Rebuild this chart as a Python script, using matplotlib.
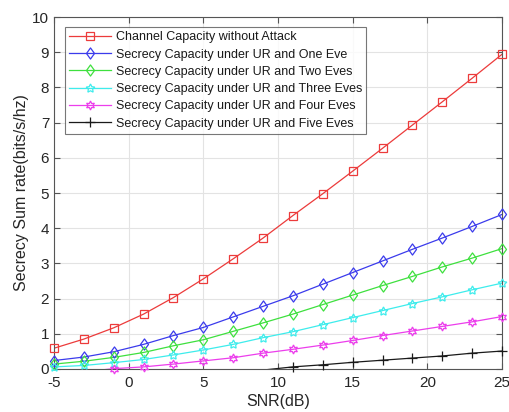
import numpy as np
import matplotlib
matplotlib.use("Agg")
from matplotlib import pyplot as plt
from matplotlib.lines import Line2D
from matplotlib.path import Path

plt.rcParams["font.family"] = ["Liberation Sans", "DejaVu Sans"]
plt.rcParams["axes.unicode_minus"] = False

snr = np.array([-5, -3, -1, 1, 3, 5, 7, 9, 11, 13, 15, 17, 19, 21, 23, 25])

no_attack = [0.59, 0.85, 1.17, 1.56, 2.03, 2.56, 3.13, 3.72, 4.36, 4.98,
             5.62, 6.27, 6.93, 7.59, 8.26, 8.94]
one_eve = [0.24, 0.34, 0.49, 0.70, 0.95, 1.18, 1.48, 1.78, 2.08, 2.41,
           2.74, 3.07, 3.40, 3.72, 4.05, 4.39]
two_eves = [0.14, 0.22, 0.33, 0.47, 0.66, 0.83, 1.07, 1.31, 1.56, 1.83,
            2.10, 2.37, 2.63, 2.90, 3.15, 3.42]
three_eves = [0.06, 0.10, 0.18, 0.27, 0.40, 0.54, 0.70, 0.89, 1.06, 1.26,
              1.46, 1.66, 1.86, 2.05, 2.25, 2.44]
four_eves = [np.nan, -0.08, 0.01, 0.06, 0.14, 0.23, 0.32, 0.45, 0.56, 0.68,
             0.81, 0.95, 1.08, 1.21, 1.34, 1.49]
five_eves = [np.nan, np.nan, np.nan, np.nan, np.nan, np.nan, np.nan, -0.03, 0.06, 0.12,
             0.19, 0.25, 0.31, 0.37, 0.45, 0.51]

labels = [
    "Channel Capacity without Attack",
    "Secrecy Capacity under UR and One Eve",
    "Secrecy Capacity under UR and Two Eves",
    "Secrecy Capacity under UR and Three Eves",
    "Secrecy Capacity under UR and Four Eves",
    "Secrecy Capacity under UR and Five Eves",
]
series = [no_attack, one_eve, two_eves, three_eves, four_eves, five_eves]
colors = ["#ec3b3b", "#3b3bec", "#3ee03e", "#3eecec", "#ec3eec", "#1a1a1a"]

# MATLAB-like diamond: a bit taller than wide
diamond = Path([(0, 1), (0.72, 0), (0, -1), (-0.72, 0), (0, 1)],
               [Path.MOVETO, Path.LINETO, Path.LINETO, Path.LINETO, Path.CLOSEPOLY])
markers = ["s", diamond, diamond, (5, 1, 0), (6, 1, 0), "+"]
msizes = [5.2, 8, 8, 6.5, 6.5, 6.5]

fig = plt.figure(figsize=(5.09, 4.12), dpi=100)
ax = fig.add_axes([54 / 509, 43 / 412, 448 / 509, 352 / 412])

handles = []
for y, c, m, ms, lab in zip(series, colors, markers, msizes, labels):
    y = np.asarray(y, dtype=float)
    # line clipped at the axes, markers drawn whole like MATLAB does
    ax.plot(snr, y, color=c, lw=0.9)
    vis = y >= 0
    ax.plot(snr[vis], y[vis], ls="none", marker=m, ms=ms, mfc="none", mec=c,
            mew=0.9, clip_on=False, zorder=3)
    handles.append(Line2D([], [], color=c, lw=0.9, marker=m, ms=ms, mfc="none",
                          mec=c, mew=0.9))

ax.set_xlim(-5, 25)
ax.set_ylim(0, 10)
ax.set_xticks(np.arange(-5, 26, 5))
ax.set_yticks(np.arange(0, 11, 1))
ax.grid(True, color="#e3e3e3", lw=0.8)
ax.set_axisbelow(True)
ax.tick_params(direction="in", top=True, right=True, length=4, color="#555555",
               labelsize=11, labelcolor="#262626")
ax.tick_params(axis="y", pad=3.5)
ax.tick_params(axis="x", pad=5)
for sp in ax.spines.values():
    sp.set_color("#555555")
    sp.set_linewidth(0.8)

ax.set_xlabel("SNR(dB)", fontsize=11.5, color="#262626", labelpad=3)
ax.set_ylabel("Secrecy Sum rate(bits/s/hz)", fontsize=11.5, color="#262626", labelpad=2)

leg = ax.legend(handles, labels, loc="upper left", bbox_to_anchor=(0.0246, 0.9716),
                fontsize=9, frameon=True, fancybox=False, handlelength=3.3,
                handletextpad=0.4, borderpad=0.35, labelspacing=0.42,
                borderaxespad=0.0)
leg.get_frame().set_edgecolor("#555555")
leg.get_frame().set_linewidth(0.8)
for t in leg.get_texts():
    t.set_color("#1a1a1a")

fig.savefig("out.png", dpi=100)
